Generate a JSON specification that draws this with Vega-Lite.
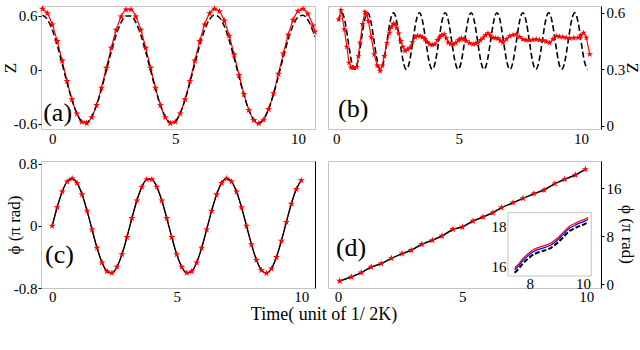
{
  "$schema": "https://vega.github.io/schema/vega-lite/v6.json",
  "background": "white",
  "padding": {"left": 0, "top": 4, "right": 0, "bottom": 0},
  "columns": 2,
  "spacing": {"row": 32, "column": 13},
  "bounds": "flush",
  "config": {
    "view": {"stroke": "#c4c4c4"},
    "axis": {"grid": false, "labelFont": "Liberation Serif", "titleFont": "Liberation Serif", "labelFontSize": 15, "titleFontSize": 17, "titleFontWeight": "normal", "labelColor": "#000", "titleColor": "#000", "tickColor": "#000", "domainColor": "#000", "labelFlush": false}
  },
  "datasets": {
    "a": [
      {"t":-0.4,"red":0.679,"black":0.609},{"t":-0.2,"red":0.628,"black":0.561},{"t":0.0,"red":0.502,"black":0.443},{"t":0.2,"red":0.318,"black":0.271},{"t":0.4,"red":0.100,"black":0.066},{"t":0.6,"red":-0.126,"black":-0.145},{"t":0.8,"red":-0.331,"black":-0.337},{"t":1.0,"red":-0.489,"black":-0.486},{"t":1.2,"red":-0.581,"black":-0.573},{"t":1.4,"red":-0.596,"black":-0.586},{"t":1.6,"red":-0.530,"black":-0.525},{"t":1.8,"red":-0.393,"black":-0.396},{"t":2.0,"red":-0.202,"black":-0.217},{"t":2.2,"red":0.020,"black":-0.009},{"t":2.4,"red":0.244,"black":0.201},{"t":2.6,"red":0.443,"black":0.387},{"t":2.8,"red":0.591,"black":0.527},{"t":3.0,"red":0.670,"black":0.600},{"t":3.2,"red":0.670,"black":0.600},{"t":3.4,"red":0.591,"black":0.527},{"t":3.6,"red":0.443,"black":0.387},{"t":3.8,"red":0.244,"black":0.201},{"t":4.0,"red":0.020,"black":-0.009},{"t":4.2,"red":-0.202,"black":-0.217},{"t":4.4,"red":-0.393,"black":-0.396},{"t":4.6,"red":-0.530,"black":-0.525},{"t":4.8,"red":-0.596,"black":-0.586},{"t":5.0,"red":-0.581,"black":-0.573},{"t":5.2,"red":-0.489,"black":-0.486},{"t":5.4,"red":-0.331,"black":-0.337},{"t":5.6,"red":-0.126,"black":-0.145},{"t":5.8,"red":0.100,"black":0.066},{"t":6.0,"red":0.318,"black":0.271},{"t":6.2,"red":0.502,"black":0.443},{"t":6.4,"red":0.628,"black":0.561},{"t":6.6,"red":0.679,"black":0.609},{"t":6.8,"red":0.651,"black":0.582},{"t":7.0,"red":0.546,"black":0.484},{"t":7.2,"red":0.377,"black":0.326},{"t":7.4,"red":0.167,"black":0.129},{"t":7.6,"red":-0.060,"black":-0.084},{"t":7.8,"red":-0.274,"black":-0.285},{"t":8.0,"red":-0.449,"black":-0.448},{"t":8.2,"red":-0.562,"black":-0.555},{"t":8.4,"red":-0.600,"black":-0.590},{"t":8.6,"red":-0.558,"black":-0.550},{"t":8.8,"red":-0.440,"black":-0.440},{"t":9.0,"red":-0.263,"black":-0.274},{"t":9.2,"red":-0.047,"black":-0.072},{"t":9.4,"red":0.180,"black":0.141},{"t":9.6,"red":0.389,"black":0.337},{"t":9.8,"red":0.554,"black":0.492},{"t":10.0,"red":0.654,"black":0.586},{"t":10.2,"red":0.678,"black":0.608},{"t":10.4,"red":0.622,"black":0.555},{"t":10.6,"red":0.492,"black":0.434},{"t":10.68,"red":0.423,"black":0.369}
    ],
    "b_dash": [
      {"t":0.088,"z":0.556},{"t":0.220,"z":0.6},{"t":0.352,"z":0.556},{"t":0.485,"z":0.45},{"t":0.617,"z":0.344},{"t":0.749,"z":0.3},{"t":0.881,"z":0.344},{"t":1.014,"z":0.45},{"t":1.146,"z":0.556},{"t":1.278,"z":0.6},{"t":1.410,"z":0.556},{"t":1.543,"z":0.45},{"t":1.675,"z":0.344},{"t":1.807,"z":0.3},{"t":1.939,"z":0.344},{"t":2.072,"z":0.45},{"t":2.204,"z":0.556},{"t":2.336,"z":0.6},{"t":2.468,"z":0.556},{"t":2.601,"z":0.45},{"t":2.733,"z":0.344},{"t":2.865,"z":0.3},{"t":2.997,"z":0.344},{"t":3.130,"z":0.45},{"t":3.262,"z":0.556},{"t":3.394,"z":0.6},{"t":3.526,"z":0.556},{"t":3.659,"z":0.45},{"t":3.791,"z":0.344},{"t":3.923,"z":0.3},{"t":4.055,"z":0.344},{"t":4.188,"z":0.45},{"t":4.320,"z":0.556},{"t":4.452,"z":0.6},{"t":4.584,"z":0.556},{"t":4.717,"z":0.45},{"t":4.849,"z":0.344},{"t":4.981,"z":0.3},{"t":5.113,"z":0.344},{"t":5.246,"z":0.45},{"t":5.378,"z":0.556},{"t":5.510,"z":0.6},{"t":5.642,"z":0.556},{"t":5.775,"z":0.45},{"t":5.907,"z":0.344},{"t":6.039,"z":0.3},{"t":6.171,"z":0.344},{"t":6.304,"z":0.45},{"t":6.436,"z":0.556},{"t":6.568,"z":0.6},{"t":6.700,"z":0.556},{"t":6.833,"z":0.45},{"t":6.965,"z":0.344},{"t":7.097,"z":0.3},{"t":7.229,"z":0.344},{"t":7.362,"z":0.45},{"t":7.494,"z":0.556},{"t":7.626,"z":0.6},{"t":7.758,"z":0.556},{"t":7.891,"z":0.45},{"t":8.023,"z":0.344},{"t":8.155,"z":0.3},{"t":8.287,"z":0.344},{"t":8.420,"z":0.45},{"t":8.552,"z":0.556},{"t":8.684,"z":0.6},{"t":8.816,"z":0.556},{"t":8.949,"z":0.45},{"t":9.081,"z":0.344},{"t":9.213,"z":0.3},{"t":9.345,"z":0.344},{"t":9.478,"z":0.45},{"t":9.610,"z":0.556},{"t":9.742,"z":0.6},{"t":9.874,"z":0.556},{"t":10.007,"z":0.45},{"t":10.139,"z":0.344},{"t":10.271,"z":0.3}
    ],
    "b_red": [
      {"t":0.10,"z":0.565},{"t":0.19,"z":0.615},{"t":0.33,"z":0.512},{"t":0.43,"z":0.42},{"t":0.52,"z":0.335},{"t":0.60,"z":0.31},{"t":0.69,"z":0.309},{"t":0.83,"z":0.313},{"t":0.90,"z":0.37},{"t":0.97,"z":0.441},{"t":1.07,"z":0.54},{"t":1.17,"z":0.605},{"t":1.24,"z":0.59},{"t":1.31,"z":0.556},{"t":1.43,"z":0.47},{"t":1.55,"z":0.38},{"t":1.67,"z":0.32},{"t":1.79,"z":0.291},{"t":1.88,"z":0.32},{"t":1.96,"z":0.371},{"t":2.07,"z":0.44},{"t":2.17,"z":0.494},{"t":2.25,"z":0.525},{"t":2.33,"z":0.542},{"t":2.40,"z":0.54},{"t":2.47,"z":0.521},{"t":2.55,"z":0.49},{"t":2.64,"z":0.45},{"t":2.72,"z":0.42},{"t":2.81,"z":0.397},{"t":2.91,"z":0.405},{"t":3.01,"z":0.415},{"t":3.11,"z":0.445},{"t":3.22,"z":0.472},{"t":3.32,"z":0.478},{"t":3.42,"z":0.477},{"t":3.52,"z":0.47},{"t":3.62,"z":0.459},{"t":3.72,"z":0.445},{"t":3.82,"z":0.433},{"t":3.92,"z":0.43},{"t":4.03,"z":0.433},{"t":4.13,"z":0.455},{"t":4.23,"z":0.472},{"t":4.32,"z":0.482},{"t":4.41,"z":0.486},{"t":4.50,"z":0.465},{"t":4.58,"z":0.441},{"t":4.68,"z":0.435},{"t":4.78,"z":0.433},{"t":4.88,"z":0.44},{"t":4.99,"z":0.454},{"t":5.05,"z":0.46},{"t":5.12,"z":0.465},{"t":5.21,"z":0.458},{"t":5.31,"z":0.45},{"t":5.45,"z":0.44},{"t":5.59,"z":0.433},{"t":5.69,"z":0.437},{"t":5.79,"z":0.441},{"t":5.90,"z":0.455},{"t":6.00,"z":0.468},{"t":6.10,"z":0.482},{"t":6.20,"z":0.491},{"t":6.30,"z":0.48},{"t":6.41,"z":0.468},{"t":6.51,"z":0.466},{"t":6.61,"z":0.465},{"t":6.71,"z":0.452},{"t":6.81,"z":0.441},{"t":6.95,"z":0.46},{"t":7.09,"z":0.477},{"t":7.22,"z":0.482},{"t":7.36,"z":0.486},{"t":7.50,"z":0.472},{"t":7.63,"z":0.459},{"t":7.76,"z":0.455},{"t":7.90,"z":0.454},{"t":8.03,"z":0.457},{"t":8.17,"z":0.459},{"t":8.31,"z":0.456},{"t":8.45,"z":0.454},{"t":8.58,"z":0.447},{"t":8.72,"z":0.441},{"t":8.85,"z":0.46},{"t":8.99,"z":0.477},{"t":9.12,"z":0.474},{"t":9.26,"z":0.472},{"t":9.40,"z":0.468},{"t":9.54,"z":0.465},{"t":9.71,"z":0.467},{"t":9.88,"z":0.468},{"t":10.00,"z":0.48},{"t":10.11,"z":0.494},{"t":10.22,"z":0.468},{"t":10.36,"z":0.38}
    ],
    "c": [
      {"t":0.0,"phi":0},{"t":0.2,"phi":0.239},{"t":0.4,"phi":0.440},{"t":0.6,"phi":0.570},{"t":0.8,"phi":0.609},{"t":1.0,"phi":0.551},{"t":1.2,"phi":0.404},{"t":1.4,"phi":0.193},{"t":1.6,"phi":-0.049},{"t":1.8,"phi":-0.284},{"t":2.0,"phi":-0.473},{"t":2.2,"phi":-0.586},{"t":2.4,"phi":-0.606},{"t":2.6,"phi":-0.528},{"t":2.8,"phi":-0.367},{"t":3.0,"phi":-0.146},{"t":3.2,"phi":0.098},{"t":3.4,"phi":0.326},{"t":3.6,"phi":0.502},{"t":3.8,"phi":0.598},{"t":4.0,"phi":0.598},{"t":4.2,"phi":0.502},{"t":4.4,"phi":0.326},{"t":4.6,"phi":0.098},{"t":4.8,"phi":-0.146},{"t":5.0,"phi":-0.367},{"t":5.2,"phi":-0.528},{"t":5.4,"phi":-0.606},{"t":5.6,"phi":-0.586},{"t":5.8,"phi":-0.473},{"t":6.0,"phi":-0.284},{"t":6.2,"phi":-0.049},{"t":6.4,"phi":0.193},{"t":6.6,"phi":0.404},{"t":6.8,"phi":0.551},{"t":7.0,"phi":0.609},{"t":7.2,"phi":0.570},{"t":7.4,"phi":0.440},{"t":7.6,"phi":0.239},{"t":7.8,"phi":0},{"t":8.0,"phi":-0.239},{"t":8.2,"phi":-0.440},{"t":8.4,"phi":-0.570},{"t":8.6,"phi":-0.609},{"t":8.8,"phi":-0.551},{"t":9.0,"phi":-0.404},{"t":9.2,"phi":-0.193},{"t":9.4,"phi":0.049},{"t":9.6,"phi":0.284},{"t":9.8,"phi":0.473},{"t":10.0,"phi":0.586}
    ],
    "d": [
      {"t":0.07,"phi":0.55},{"t":0.54,"phi":1.22},{"t":0.94,"phi":1.93},{"t":1.34,"phi":2.88},{"t":1.74,"phi":3.43},{"t":2.15,"phi":4.33},{"t":2.58,"phi":5.1},{"t":2.95,"phi":5.67},{"t":3.38,"phi":6.67},{"t":3.80,"phi":7.33},{"t":4.19,"phi":8.05},{"t":4.63,"phi":9.17},{"t":5.01,"phi":9.55},{"t":5.44,"phi":10.55},{"t":5.84,"phi":11.22},{"t":6.24,"phi":11.93},{"t":6.58,"phi":12.77},{"t":7.05,"phi":13.6},{"t":7.45,"phi":14.33},{"t":7.89,"phi":15.1},{"t":8.30,"phi":15.72},{"t":8.73,"phi":16.77},{"t":9.13,"phi":17.5},{"t":9.56,"phi":18.22},{"t":9.96,"phi":19.17}
    ],
    "inset": [
      {"t":7.44,"red":15.91,"blue":15.81,"black":15.66},{"t":7.6,"red":16.12,"blue":16.02,"black":15.87},{"t":7.75,"red":16.39,"blue":16.29,"black":16.14},{"t":7.9,"red":16.58,"blue":16.48,"black":16.33},{"t":8.06,"red":16.77,"blue":16.67,"black":16.52},{"t":8.2,"red":16.88,"blue":16.78,"black":16.63},{"t":8.31,"red":16.94,"blue":16.84,"black":16.69},{"t":8.5,"red":17.02,"blue":16.92,"black":16.77},{"t":8.69,"red":17.11,"blue":17.01,"black":16.86},{"t":8.8,"red":17.18,"blue":17.08,"black":16.93},{"t":8.94,"red":17.32,"blue":17.22,"black":17.07},{"t":9.1,"red":17.5,"blue":17.4,"black":17.25},{"t":9.25,"red":17.71,"blue":17.61,"black":17.46},{"t":9.38,"red":17.9,"blue":17.8,"black":17.65},{"t":9.5,"red":18.05,"blue":17.95,"black":17.8},{"t":9.65,"red":18.15,"blue":18.05,"black":17.9},{"t":9.81,"red":18.27,"blue":18.17,"black":18.02},{"t":10.0,"red":18.36,"blue":18.26,"black":18.11},{"t":10.19,"red":18.48,"blue":18.38,"black":18.23}
    ]
  },
  "concat": [
    {
      "width": 274, "height": 123,
      "data": {"name": "a"},
      "encoding": {"x": {"field": "t", "type": "quantitative", "scale": {"domain": [-0.46, 10.69], "nice": false, "zero": false}, "axis": {"values": [0, 5, 10], "format": "~f", "title": null, "domain": false, "ticks": false, "tickSize": 0, "labelPadding": 2}}},
      "layer": [
        {"mark": {"type": "line", "color": "#ff0000", "strokeWidth": 1.2, "interpolate": "monotone"},
         "encoding": {"y": {"field": "red", "type": "quantitative", "scale": {"domain": [-0.66, 0.71], "nice": false, "zero": false}, "axis": {"orient": "left", "values": [-0.6, 0, 0.6], "format": "~f", "title": "Z", "titleAngle": -90, "titleX": -31, "titleY": 61.5, "titleAlign": "center", "titleBaseline": "middle", "tickSize": 3, "labelPadding": 1, "domain": false, "labelExpr": "replace(datum.label, '−', '-')"}}}},
        {"mark": {"type": "line", "color": "#000000", "strokeWidth": 1.5, "strokeDash": [6, 3], "interpolate": "monotone"},
         "encoding": {"y": {"field": "black", "type": "quantitative", "title": "Z"}}},
        {"mark": {"type": "point", "shape": "M0,-1L0.2245,-0.309L0.9511,-0.309L0.3633,0.118L0.5878,0.809L0,0.382L-0.5878,0.809L-0.3633,0.118L-0.9511,-0.309L-0.2245,-0.309Z", "filled": true, "color": "#ff0000", "size": 55, "opacity": 1},
         "encoding": {"y": {"field": "red", "type": "quantitative", "title": "Z"}}},
        {"data": {"values": [{"t": -0.37, "red": -0.48, "label": "(a)"}]},
         "mark": {"type": "text", "font": "Liberation Serif", "fontSize": 26, "align": "left", "baseline": "middle", "color": "#000"},
         "encoding": {"y": {"field": "red", "type": "quantitative", "title": "Z"}, "text": {"field": "label"}}}
      ]
    },
    {
      "width": 273, "height": 123,
      "encoding": {"x": {"field": "t", "type": "quantitative", "scale": {"domain": [-0.34, 10.82], "nice": false, "zero": false}, "axis": {"values": [0, 5, 10], "format": "~f", "title": null, "domain": false, "ticks": false, "tickSize": 0, "labelPadding": 2}}},
      "layer": [
        {"data": {"name": "b_dash"}, "mark": {"type": "line", "color": "#000000", "strokeWidth": 1.6, "strokeDash": [6, 3], "interpolate": "natural"},
         "encoding": {"y": {"field": "z", "type": "quantitative", "scale": {"domain": [-0.016, 0.636], "nice": false, "zero": false}, "axis": {"orient": "right", "values": [0, 0.3, 0.6], "format": "~f", "title": "Z", "titleAngle": 90, "titleX": 30, "titleY": 61.5, "titleAlign": "center", "titleBaseline": "middle", "tickSize": 3, "labelPadding": 2, "domain": true}}}},
        {"data": {"name": "b_red"}, "mark": {"type": "line", "color": "#ff0000", "strokeWidth": 1.2},
         "encoding": {"y": {"field": "z", "type": "quantitative", "title": "Z"}}},
        {"data": {"name": "b_red"}, "mark": {"type": "point", "shape": "M0,-1L0.2245,-0.309L0.9511,-0.309L0.3633,0.118L0.5878,0.809L0,0.382L-0.5878,0.809L-0.3633,0.118L-0.9511,-0.309L-0.2245,-0.309Z", "filled": true, "color": "#ff0000", "size": 45, "opacity": 1},
         "encoding": {"y": {"field": "z", "type": "quantitative", "title": "Z"}}},
        {"data": {"values": [{"t": 0.07, "z": 0.09, "label": "(b)"}]},
         "mark": {"type": "text", "font": "Liberation Serif", "fontSize": 26, "align": "left", "baseline": "middle", "color": "#000"},
         "encoding": {"y": {"field": "z", "type": "quantitative", "title": "Z"}, "text": {"field": "label"}}}
      ]
    },
    {
      "width": 274, "height": 127,
      "data": {"name": "c"},
      "encoding": {"x": {"field": "t", "type": "quantitative", "scale": {"domain": [-0.45, 10.55], "nice": false, "zero": false}, "axis": {"values": [0, 5, 10], "format": "~f", "title": "Time( unit of 1/ 2K)", "titleFontSize": 18, "titleX": 282.5, "titleY": 26, "titleAlign": "center", "titleBaseline": "middle", "domain": false, "ticks": false, "tickSize": 0, "labelPadding": 1}}},
      "layer": [
        {"mark": {"type": "line", "color": "#ff0000", "strokeWidth": 1, "interpolate": "monotone"},
         "encoding": {"y": {"field": "phi", "type": "quantitative", "scale": {"domain": [-0.8, 0.835], "nice": false, "zero": false}, "axis": {"orient": "left", "values": [-0.8, 0, 0.8], "format": "~f", "title": "ϕ (π rad)", "titleAngle": -90, "titleX": -27, "titleY": 63.5, "titleAlign": "center", "titleBaseline": "middle", "tickSize": 3, "labelPadding": 1, "domain": false, "labelExpr": "replace(datum.label, '−', '-')"}}}},
        {"mark": {"type": "line", "color": "#000000", "strokeWidth": 1.4, "interpolate": "monotone"},
         "encoding": {"y": {"field": "phi", "type": "quantitative", "axis": {"orient": "right", "labels": false, "ticks": false, "domain": true, "title": null}}}},
        {"mark": {"type": "point", "shape": "M0,-1L0.2245,-0.309L0.9511,-0.309L0.3633,0.118L0.5878,0.809L0,0.382L-0.5878,0.809L-0.3633,0.118L-0.9511,-0.309L-0.2245,-0.309Z", "filled": true, "color": "#ff0000", "size": 55, "opacity": 1},
         "encoding": {"y": {"field": "phi", "type": "quantitative", "axis": null}}},
        {"data": {"values": [{"t": -0.29, "phi": -0.372, "label": "(c)"}]},
         "mark": {"type": "text", "font": "Liberation Serif", "fontSize": 26, "align": "left", "baseline": "middle", "color": "#000"},
         "encoding": {"y": {"field": "phi", "type": "quantitative", "axis": null}, "text": {"field": "label"}}}
      ],
      "resolve": {"axis": {"y": "independent"}}
    },
    {
      "width": 273, "height": 127,
      "layer": [
        {
          "data": {"name": "d"},
          "encoding": {
            "x": {"field": "t", "type": "quantitative", "scale": {"domain": [-0.40, 10.59], "nice": false, "zero": false}, "axis": {"values": [0, 5, 10], "format": "~f", "title": null, "domain": false, "ticks": false, "tickSize": 0, "labelPadding": 1}},
            "y": {"field": "phi", "type": "quantitative", "scale": {"domain": [-0.62, 20.55], "nice": false, "zero": false}, "axis": {"orient": "right", "values": [0, 8, 16], "format": "~f", "title": "ϕ (π rad)", "titleAngle": 90, "titleX": 25, "titleY": 73, "titleAlign": "center", "titleBaseline": "middle", "tickSize": 3, "labelPadding": 2, "domain": true}}
          },
          "layer": [
            {"mark": {"type": "line", "color": "#000000", "strokeWidth": 1.5}},
            {"mark": {"type": "point", "shape": "M0,-1L0.2245,-0.309L0.9511,-0.309L0.3633,0.118L0.5878,0.809L0,0.382L-0.5878,0.809L-0.3633,0.118L-0.9511,-0.309L-0.2245,-0.309Z", "filled": true, "color": "#ff0000", "size": 55, "opacity": 1}},
            {"data": {"values": [{"t": -0.08, "phi": 6.13, "label": "(d)"}]},
             "mark": {"type": "text", "font": "Liberation Serif", "fontSize": 26, "align": "left", "baseline": "middle", "color": "#000"},
             "encoding": {"text": {"field": "label"}}}
          ]
        },
        {
          "layer": [
            {"data": {"values": [{"t": 7.19, "t2": 10.31, "v": 15.49, "v2": 18.73}]},
             "mark": {"type": "rect", "fill": "white", "stroke": "#c4c4c4", "strokeWidth": 1},
             "encoding": {
               "x": {"field": "t", "type": "quantitative", "scale": {"domain": [7.19, 10.31], "range": [180, 263.3], "nice": false, "zero": false}, "axis": {"orient": "bottom", "offset": -12, "values": [8, 10], "format": "~f", "title": null, "domain": false, "ticks": false, "tickSize": 0, "labelPadding": 0}},
               "x2": {"field": "t2"},
               "y": {"field": "v", "type": "quantitative", "scale": {"domain": [15.49, 18.73], "range": [115, 51.7], "nice": false, "zero": false}, "axis": {"orient": "left", "offset": -180, "values": [16, 18], "format": "~f", "title": null, "domain": false, "ticks": false, "tickSize": 0, "labelPadding": 2}},
               "y2": {"field": "v2"}
             }},
            {"data": {"name": "inset"}, "mark": {"type": "line", "color": "#ff0000", "strokeWidth": 1.2},
             "encoding": {"x": {"field": "t", "type": "quantitative", "title": null}, "y": {"field": "red", "type": "quantitative", "title": null}}},
            {"data": {"name": "inset"}, "mark": {"type": "line", "color": "#0000ff", "strokeWidth": 1.2},
             "encoding": {"x": {"field": "t", "type": "quantitative", "title": null}, "y": {"field": "blue", "type": "quantitative", "title": null}}},
            {"data": {"name": "inset"}, "mark": {"type": "line", "color": "#000000", "strokeWidth": 2, "strokeDash": [5, 2]},
             "encoding": {"x": {"field": "t", "type": "quantitative", "title": null}, "y": {"field": "black", "type": "quantitative", "title": null}}}
          ]
        }
      ],
      "resolve": {"scale": {"x": "independent", "y": "independent"}, "axis": {"x": "independent", "y": "independent"}}
    }
  ]
}
